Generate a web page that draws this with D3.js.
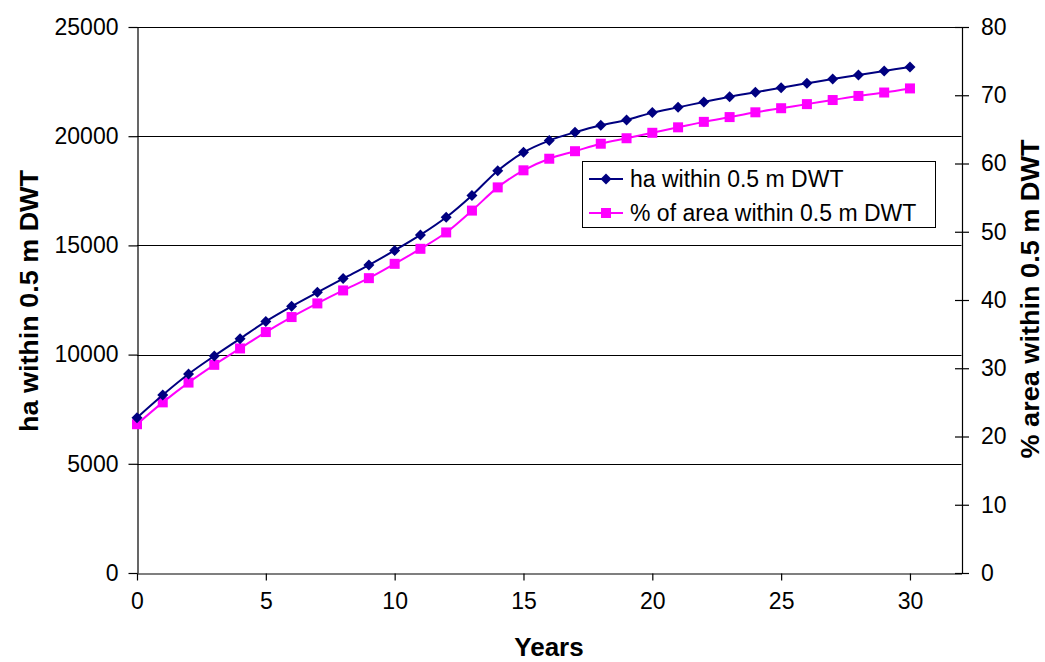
<!DOCTYPE html>
<html>
<head>
<meta charset="utf-8">
<script src="https://cdn.jsdelivr.net/npm/d3@7"></script>
<style>
  body { margin: 0; background: #fff; }
  svg { display: block; font-family: "Liberation Sans", Arial, sans-serif; }
</style>
</head>
<body>
<svg id="chart" width="1045" height="662"></svg>
<script>
// data
const years = d3.range(0, 31);
const haValues = [7110, 8150, 9110, 9940, 10730, 11520, 12210, 12850, 13480, 14100,
                  14770, 15480, 16290, 17290, 18420, 19260, 19800, 20180, 20500, 20740,
                  21080, 21320, 21570, 21810, 22010, 22220, 22420, 22620, 22800, 22990, 23170];
const pctValues = [21.8, 25.0, 27.9, 30.5, 32.9, 35.3, 37.5, 39.5, 41.4, 43.2,
                   45.3, 47.5, 49.9, 53.1, 56.5, 59.0, 60.7, 61.8, 62.9, 63.7,
                   64.5, 65.3, 66.1, 66.8, 67.5, 68.1, 68.7, 69.3, 69.9, 70.4, 71.0];
const xTicks = [0, 5, 10, 15, 20, 25, 30];
const leftTicks = [0, 5000, 10000, 15000, 20000, 25000];
const rightTicks = [0, 10, 20, 30, 40, 50, 60, 70, 80];
const seriesNames = ["ha within 0.5 m DWT", "% of area within 0.5 m DWT"];

const svg = d3.select("#chart");
const plotL = 137, plotR = 961.5, plotT = 27, plotB = 573;

const x = d3.scaleLinear().domain([0, 32]).range([plotL, plotR]);
const yL = d3.scaleLinear().domain([0, 25000]).range([plotB, plotT]);
const yR = d3.scaleLinear().domain([0, 80]).range([plotB, plotT]);

// gridlines
svg.append("g")
   .selectAll("line")
   .data(leftTicks.filter(d => d > 0))
   .enter().append("line")
   .attr("x1", plotL).attr("x2", plotR)
   .attr("y1", d => Math.round(yL(d)) + 0.5)
   .attr("y2", d => Math.round(yL(d)) + 0.5)
   .attr("stroke", "#000").attr("stroke-width", 1);

// left axis
const gL = svg.append("g")
   .attr("transform", "translate(" + (plotL + 0.5) + ",0)")
   .call(d3.axisLeft(yL).tickValues(leftTicks).tickFormat(d3.format("d")).tickSizeInner(9).tickSizeOuter(0));

// right axis, ticks cross the line
const gR = svg.append("g")
   .attr("transform", "translate(" + (plotR + 0.5) + ",0)")
   .call(d3.axisRight(yR).tickValues(rightTicks).tickSizeInner(7).tickSizeOuter(0).tickPadding(12));
gR.selectAll(".tick line").attr("x1", -7).attr("x2", 7);

// bottom axis
const gX = svg.append("g")
   .attr("transform", "translate(0," + (plotB + 0.5) + ")")
   .call(d3.axisBottom(x).tickValues(xTicks).tickSizeInner(7).tickSizeOuter(0).tickPadding(12));

[gL, gR, gX].forEach(g => {
  g.selectAll("path.domain").attr("stroke", "#000").attr("stroke-width", 1.2);
  g.selectAll(".tick line").attr("stroke", "#000").attr("stroke-width", 1.2);
  g.selectAll(".tick text").attr("fill", "#000").style("font-size", "23px")
   .style("font-family", "'Liberation Sans', Arial, sans-serif");
});
gL.selectAll(".tick text").attr("x", -19);

// series
const lineHa = d3.line()
   .x((d, i) => x(years[i]))
   .y(d => yL(d))
   .curve(d3.curveCatmullRom.alpha(0.5));
const linePct = d3.line()
   .x((d, i) => x(years[i]))
   .y(d => yR(d))
   .curve(d3.curveCatmullRom.alpha(0.5));

const diamond = "M0,-5.5L5.5,0L0,5.5L-5.5,0Z";

svg.append("path").datum(pctValues)
   .attr("d", linePct).attr("fill", "none")
   .attr("stroke", "#ff00ff").attr("stroke-width", 2);
svg.append("g").selectAll("rect")
   .data(pctValues)
   .enter().append("rect")
   .attr("x", (d, i) => x(years[i]) - 5)
   .attr("y", d => yR(d) - 5)
   .attr("width", 10).attr("height", 10)
   .attr("fill", "#ff00ff");

svg.append("path").datum(haValues)
   .attr("d", lineHa).attr("fill", "none")
   .attr("stroke", "#000080").attr("stroke-width", 2);
svg.append("g").selectAll("path")
   .data(haValues)
   .enter().append("path")
   .attr("d", diamond)
   .attr("transform", (d, i) => "translate(" + x(years[i]) + "," + yL(d) + ")")
   .attr("fill", "#000080");

// legend
const lg = svg.append("g");
lg.append("rect")
  .attr("x", 582.5).attr("y", 161.5).attr("width", 353).attr("height", 66)
  .attr("fill", "#fff").attr("stroke", "#000").attr("stroke-width", 1);
const rows = [{c: "#000080", kind: "d"}, {c: "#ff00ff", kind: "s"}];
rows.forEach((r, i) => {
  const cy = 179 + i * 34;
  lg.append("line").attr("x1", 589).attr("x2", 623).attr("y1", cy).attr("y2", cy)
    .attr("stroke", r.c).attr("stroke-width", 2);
  if (r.kind === "d") {
    lg.append("path").attr("d", diamond).attr("transform", "translate(606," + cy + ")").attr("fill", r.c);
  } else {
    lg.append("rect").attr("x", 601).attr("y", cy - 5).attr("width", 10).attr("height", 10).attr("fill", r.c);
  }
  lg.append("text").attr("x", 630).attr("y", cy).attr("dy", "0.35em")
    .style("font-size", "23px").text(seriesNames[i]);
});

// axis titles
svg.append("text")
   .attr("x", 549).attr("y", 656)
   .attr("text-anchor", "middle")
   .style("font-size", "26px").style("font-weight", "bold")
   .text("Years");

svg.append("text")
   .attr("transform", "translate(38,301) rotate(-90)")
   .attr("text-anchor", "middle")
   .attr("textLength", 262).attr("lengthAdjust", "spacingAndGlyphs")
   .style("font-size", "26px").style("font-weight", "bold")
   .text("ha within 0.5 m DWT");

svg.append("text")
   .attr("transform", "translate(1039,299) rotate(-90)")
   .attr("text-anchor", "middle")
   .attr("textLength", 319).attr("lengthAdjust", "spacingAndGlyphs")
   .style("font-size", "25px").style("font-weight", "bold")
   .text("% area within 0.5 m DWT");
</script>
</body>
</html>
